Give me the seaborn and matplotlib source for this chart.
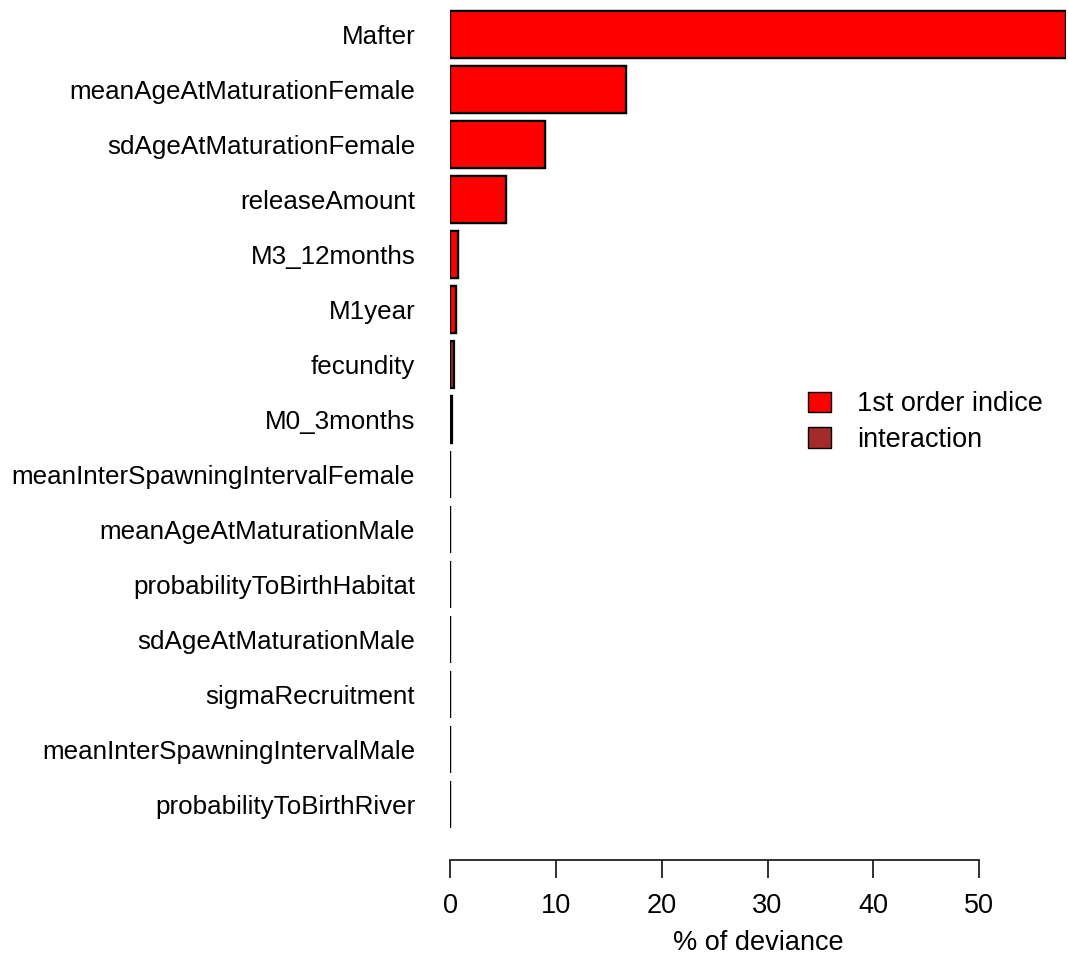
import matplotlib
matplotlib.use("Agg")
import matplotlib.pyplot as plt
import seaborn as sns
import pandas as pd
from matplotlib.patches import Patch

# Sensitivity analysis: share of deviance explained by each parameter
parameters = [
    "Mafter",
    "meanAgeAtMaturationFemale",
    "sdAgeAtMaturationFemale",
    "releaseAmount",
    "M3_12months",
    "M1year",
    "fecundity",
    "M0_3months",
    "meanInterSpawningIntervalFemale",
    "meanAgeAtMaturationMale",
    "probabilityToBirthHabitat",
    "sdAgeAtMaturationMale",
    "sigmaRecruitment",
    "meanInterSpawningIntervalMale",
    "probabilityToBirthRiver",
]
first_order = [58.2, 16.6, 9.0, 5.25, 0.75, 0.55, 0.0, 0.05,
               0.0, 0.0, 0.0, 0.0, 0.0, 0.0, 0.0]
interaction = [0.0, 0.0, 0.0, 0.0, 0.0, 0.0, 0.4, 0.15,
               0.0, 0.0, 0.0, 0.0, 0.0, 0.0, 0.0]
x_ticks = [0, 10, 20, 30, 40, 50]

df = pd.DataFrame({
    "parameter": parameters,
    "first": first_order,
    "total": [f + i for f, i in zip(first_order, interaction)],
})

sns.set_theme(style="white")
plt.rcParams["font.family"] = ["Liberation Sans", "DejaVu Sans"]
plt.rcParams["text.color"] = "black"
plt.rcParams["axes.labelcolor"] = "black"
plt.rcParams["xtick.color"] = "black"
plt.rcParams["ytick.color"] = "black"

W, H, DPI = 1068, 961, 100
fig = plt.figure(figsize=(W / DPI, H / DPI), dpi=DPI)
ax = fig.add_axes([450 / W, 1 - 860 / H, (1066 - 450) / W, 860 / H])

red = "#FF0000"
brown = "#A52A2A"

# stacked bars: total (interaction share) underneath, first order on top
sns.barplot(data=df, x="total", y="parameter", color=brown, width=0.84,
            edgecolor="black", linewidth=1.6, saturation=1, ax=ax, orient="h")
sns.barplot(data=df, x="first", y="parameter", color=red, width=0.84,
            edgecolor="black", linewidth=1.6, saturation=1, ax=ax, orient="h")

ax.set_xlim(0, 58.2)
ax.set_ylim(14.5 + 0.51, -34.5 / 55)

for s in ["top", "right", "left"]:
    ax.spines[s].set_visible(False)
ax.spines["bottom"].set_bounds(0, 50)
ax.spines["bottom"].set_color("#222222")
ax.spines["bottom"].set_linewidth(1.3)

ax.set_xticks(x_ticks)
ax.set_xticklabels([str(t) for t in x_ticks])
ax.tick_params(axis="x", length=13, width=1.3, color="#222222", pad=11,
               labelsize=19.5, bottom=True)
ax.tick_params(axis="y", length=0, pad=25, labelsize=18.7)
ax.set_ylabel("")
ax.set_xlabel("% of deviance", fontsize=19.5, labelpad=8)

handles = [Patch(facecolor=red, edgecolor="black", linewidth=1),
           Patch(facecolor=brown, edgecolor="black", linewidth=1)]
ax.legend(handles, ["1st order indice", "interaction"], frameon=False,
          fontsize=19.5, loc="upper left",
          bbox_to_anchor=(334 / 616, 1 - 367 / 860),
          handlelength=0.85, handleheight=0.8, handletextpad=0.95,
          labelspacing=0.35)

fig.savefig("out.png", dpi=DPI)
